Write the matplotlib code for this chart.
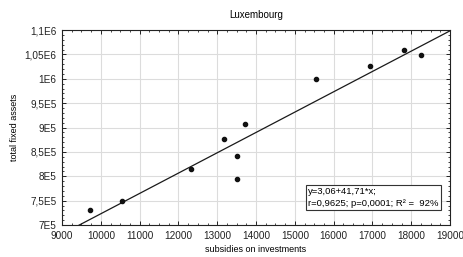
import matplotlib
matplotlib.use('Agg')
import matplotlib.pyplot as plt
import numpy as np
from matplotlib.ticker import MultipleLocator

plt.rcParams['font.family'] = ['Liberation Sans', 'DejaVu Sans']

# data
subsidies = [9720, 10550, 12320, 13180, 13510, 13510, 13720, 15540, 16940, 17810, 18250]
fixed_assets = [730000, 749000, 815000, 877000, 841500, 795000, 907000, 999000, 1025500, 1058300, 1048700]

# regression line y = a + b*x
intercept = 306000
slope = 41.71

x_ticks = [9000, 10000, 11000, 12000, 13000, 14000, 15000, 16000, 17000, 18000, 19000]
y_ticks = [700000, 750000, 800000, 850000, 900000, 950000, 1000000, 1050000, 1100000]
y_labels = ['7E5', '7,5E5', '8E5', '8,5E5', '9E5', '9,5E5', '1E6', '1,05E6', '1,1E6']

fig = plt.figure(figsize=(4.63, 2.57), dpi=100)
ax = fig.add_axes([0.134, 0.1245, 0.838, 0.7585])

xl = np.array([9000, 19000])
ax.plot(xl, intercept + slope * xl, color='#1a1a1a', lw=0.9, zorder=3)
ax.scatter(subsidies, fixed_assets, s=9, color='#111111', zorder=4)

ax.set_xlim(9000, 19000)
ax.set_ylim(700000, 1100000)
ax.set_xticks(x_ticks)
ax.set_xticklabels([str(t) for t in x_ticks])
ax.set_yticks(y_ticks)
ax.set_yticklabels(y_labels)
ax.xaxis.set_minor_locator(MultipleLocator(250))
ax.yaxis.set_minor_locator(MultipleLocator(10000))
ax.tick_params(which='both', direction='in', top=True, right=True, labelsize=7.2, colors='#222222')
ax.tick_params(which='major', length=3, width=0.7, pad=4)
ax.tick_params(which='minor', length=1.5, width=0.6)
ax.grid(True, which='major', color='#dcdcdc', lw=0.8)
ax.set_axisbelow(True)
for s in ax.spines.values():
    s.set_linewidth(0.8)
    s.set_color('#222222')

ax.set_title('Luxembourg', fontsize=7, pad=9)
ax.set_xlabel('subsidies on investments', fontsize=6.5, labelpad=3)
ax.set_ylabel('total fixed assets', fontsize=6.5, labelpad=4)

ax.text(0.635, 0.088, 'y=3,06+41,71*x;\nr=0,9625; p=0,0001; R² =  92%', transform=ax.transAxes,
        fontsize=6.8, va='bottom', ha='left', linespacing=1.35,
        bbox=dict(boxstyle='square,pad=0.22', fc='white', ec='#333333', lw=0.8))

fig.savefig('out.png', dpi=100)
